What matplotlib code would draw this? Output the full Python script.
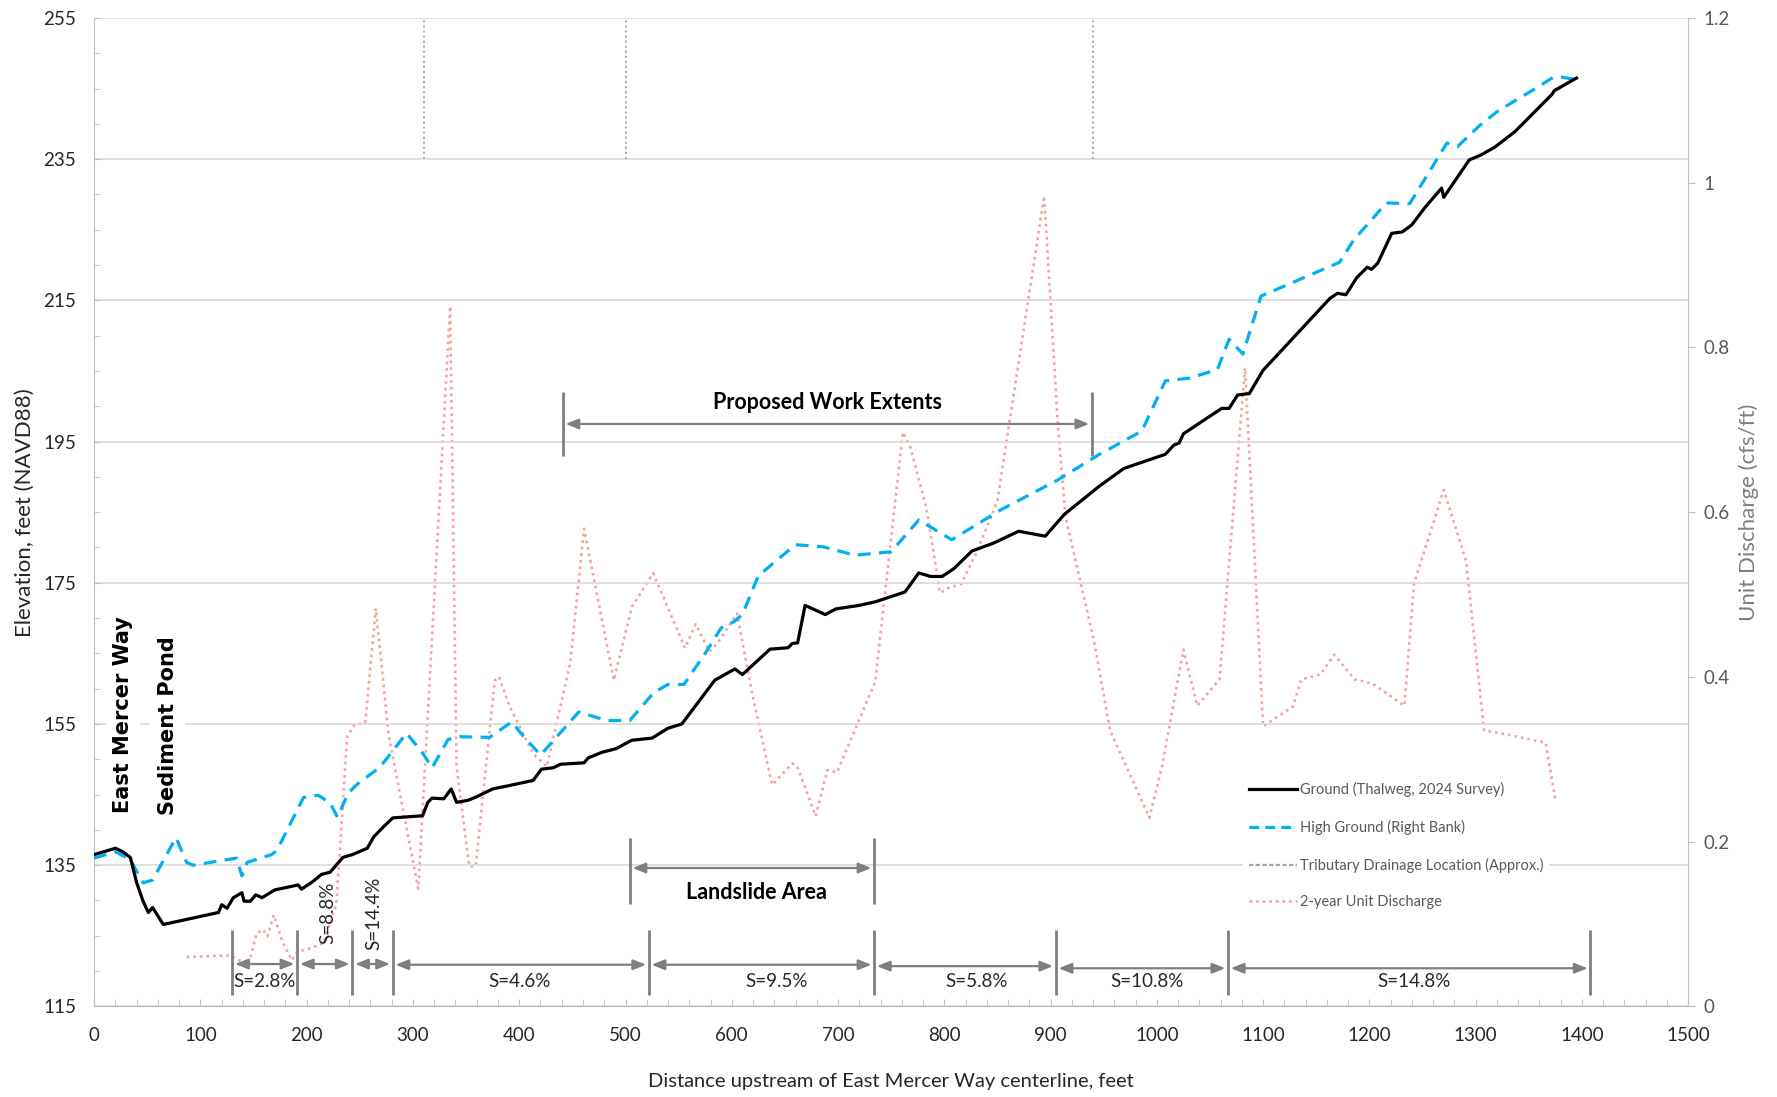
import matplotlib
matplotlib.use("Agg")
import matplotlib.pyplot as plt
from matplotlib.lines import Line2D
from matplotlib.ticker import MultipleLocator, FixedLocator

plt.rcParams['font.family'] = ['Lato', 'DejaVu Sans']

# ground profile (thalweg, 2024 survey)
x_ground = [0, 20, 27, 34, 40, 46, 51, 55, 65, 117, 120, 125, 131, 139, 141, 147, 152, 158,
            170, 192, 195, 205, 214, 222, 234, 243, 257, 263, 272, 281, 309, 314, 318, 329,
            336, 341, 352, 360, 375, 388, 413, 421, 432, 439, 461, 465, 478, 491, 506, 525,
            540, 553, 567, 584, 603, 610, 623, 636, 653, 657, 662, 669, 688, 698, 720, 735,
            763, 776, 787, 798, 809, 826, 846, 870, 895, 913, 946, 969, 1008, 1016, 1021,
            1025, 1061, 1068, 1076, 1087, 1100, 1163, 1170, 1178, 1188, 1198, 1202, 1208,
            1221, 1231, 1240, 1252, 1268, 1270, 1294, 1305, 1318, 1337, 1372, 1374, 1395]
elev_ground = [136.5, 137.4, 136.9, 136.1, 132.5, 129.9, 128.3, 129.0, 126.6, 128.3, 129.4,
               128.9, 130.4, 131.1, 129.9, 129.9, 130.8, 130.4, 131.5, 132.2, 131.6, 132.6,
               133.7, 134.0, 136.1, 136.5, 137.4, 139.0, 140.4, 141.7, 142.0, 143.9, 144.5,
               144.4, 145.8, 143.9, 144.2, 144.7, 145.8, 146.2, 147.0, 148.6, 148.8, 149.3,
               149.5, 150.2, 151.0, 151.5, 152.7, 153.0, 154.4, 155.0, 157.8, 161.2, 162.8,
               162.0, 163.8, 165.6, 165.8, 166.4, 166.5, 171.8, 170.5, 171.3, 171.8, 172.3,
               173.7, 176.4, 175.9, 175.9, 177.0, 179.5, 180.6, 182.3, 181.6, 184.7, 188.7,
               191.2, 193.2, 194.5, 194.8, 196.1, 199.7, 199.7, 201.6, 201.8, 205.1, 215.3,
               216.0, 215.8, 218.2, 219.7, 219.4, 220.3, 224.5, 224.7, 225.7, 228.1, 230.9,
               229.6, 234.9, 235.6, 236.7, 238.9, 244.2, 244.7, 246.5]

# high ground (right bank)
x_bank = [0, 20, 34, 46, 55, 77, 87, 93, 134, 139, 144, 167, 172, 197, 211, 222, 229, 239,
          247, 269, 294, 309, 318, 333, 344, 372, 393, 402, 420, 456, 482, 504, 527, 540,
          555, 575, 590, 602, 610, 625, 660, 686, 716, 750, 776, 807, 854, 906, 946, 986,
          1008, 1031, 1057, 1068, 1081, 1098, 1172, 1185, 1216, 1238, 1273, 1283, 1304,
          1320, 1335, 1354, 1373, 1382, 1393]
elev_bank = [136.0, 136.9, 135.8, 132.5, 132.9, 138.9, 135.4, 135.0, 136.0, 133.5, 135.4,
             136.5, 137.1, 144.6, 144.9, 143.8, 141.8, 145.2, 146.4, 148.9, 153.7, 150.9,
             148.8, 152.8, 153.2, 153.1, 155.3, 153.6, 150.6, 156.7, 155.5, 155.5, 159.5,
             160.6, 160.6, 165.0, 168.6, 169.5, 170.5, 176.0, 180.4, 180.1, 178.9, 179.4,
             183.9, 181.1, 185.4, 189.5, 193.2, 196.5, 203.6, 204.0, 205.2, 209.5, 207.4,
             215.6, 220.4, 223.5, 228.8, 228.7, 237.3, 236.8, 239.8, 241.7, 243.1, 244.8,
             246.6, 246.6, 246.3]

# 2-year unit discharge, cfs/ft
x_q = [87, 128, 134, 145, 153, 159, 163, 169, 177, 186, 191, 204, 216, 228, 238, 245, 255,
       265, 270, 277, 305, 335, 341, 353, 359, 377, 381, 391, 413, 426, 448, 461, 489, 506,
       526, 556, 566, 579, 586, 605, 619, 638, 657, 662, 679, 690, 699, 735, 761, 768, 783,
       796, 804, 816, 831, 850, 894, 907, 914, 941, 956, 993, 1005, 1025, 1038, 1059, 1083,
       1100, 1128, 1136, 1154, 1167, 1186, 1203, 1233, 1242, 1270, 1291, 1308, 1330, 1366,
       1375]
q = [0.060, 0.062, 0.058, 0.050, 0.089, 0.093, 0.085, 0.111, 0.079, 0.056, 0.066, 0.071,
     0.077, 0.125, 0.327, 0.342, 0.344, 0.483, 0.420, 0.330, 0.143, 0.850, 0.291, 0.170,
     0.170, 0.396, 0.400, 0.364, 0.307, 0.291, 0.417, 0.580, 0.396, 0.485, 0.526, 0.435,
     0.464, 0.431, 0.440, 0.477, 0.381, 0.269, 0.295, 0.290, 0.231, 0.287, 0.284, 0.394,
     0.697, 0.679, 0.606, 0.502, 0.508, 0.513, 0.553, 0.614, 0.984, 0.703, 0.595, 0.443,
     0.335, 0.229, 0.292, 0.433, 0.365, 0.397, 0.775, 0.340, 0.364, 0.397, 0.403, 0.427,
     0.397, 0.392, 0.365, 0.513, 0.627, 0.541, 0.335, 0.330, 0.320, 0.251]

# tributary drainage locations (approx.)
trib_x = [310, 500, 940]
trib_elev = [235, 255]

# slope segments
slope_breaks = [130, 191, 243, 281, 522, 734, 905, 1067, 1408]
slope_labels = ['S=2.8%', 'S=8.8%', 'S=14.4%', 'S=4.6%', 'S=9.5%', 'S=5.8%', 'S=10.8%', 'S=14.8%']

work_extents = [441, 939]
landslide = [504, 734]

x_ticks = list(range(0, 1501, 100))
elev_ticks = list(range(115, 256, 20))
q_ticks = [0, 0.2, 0.4, 0.6, 0.8, 1.0, 1.2]
q_tick_labels = ['0', '0.2', '0.4', '0.6', '0.8', '1', '1.2']

GREY = '#7F7F7F'
AXC = '#BFBFBF'

fig = plt.figure(figsize=(17.77, 10.97), dpi=100)
ax1 = fig.add_axes([0.053, 0.0826, 0.897, 0.901])
ax2 = ax1.twinx()
ax1.set_zorder(ax2.get_zorder() + 1)
ax1.patch.set_visible(False)

# discharge on secondary axis (drawn behind)
ax2.plot(x_q, q, color='#F4A3A3', lw=1.9, linestyle=(0, (1, 1.5)))
ax2.set_ylim(0, 1.2)
ax2.yaxis.set_major_locator(FixedLocator(q_ticks))
ax2.set_yticklabels(q_tick_labels)
ax2.tick_params(axis='y', direction='out', length=5, color=AXC, labelcolor='#595959',
                labelsize=13.5, pad=6)
for s in ['top', 'left', 'bottom']:
    ax2.spines[s].set_visible(False)
ax2.spines['right'].set_color(AXC)
ax2.set_ylabel('Unit Discharge (cfs/ft)', color='#7F7F7F', fontsize=16, labelpad=6)

ax1.plot(x_bank, elev_bank, color='#00B0F0', lw=2.3, linestyle=(0, (4, 2.6)), zorder=3)
ax1.plot(x_ground, elev_ground, color='black', lw=2.3, zorder=4)
for xt in trib_x:
    ax1.plot([xt, xt], trib_elev, color='#A6A6A6', lw=1.3, linestyle=(0, (1.2, 1.6)), zorder=2)

ax1.set_xlim(0, 1500)
ax1.set_ylim(115, 255)
ax1.set_xticks(x_ticks)
ax1.xaxis.set_minor_locator(MultipleLocator(20))
ax1.set_yticks(elev_ticks)
ax1.yaxis.set_minor_locator(MultipleLocator(5))
ax1.yaxis.grid(True, color='#D9D9D9', lw=1.2)
ax1.set_axisbelow(True)
ax1.tick_params(axis='x', which='both', direction='in', length=5, color=AXC,
                labelcolor='#262626', labelsize=13.5, pad=15)
ax1.tick_params(axis='y', which='both', direction='in', length=4, color=AXC,
                labelcolor='#262626', labelsize=13.5, pad=13)
ax1.spines['top'].set_visible(False)
ax1.spines['right'].set_visible(False)
ax1.spines['left'].set_color(AXC)
ax1.spines['bottom'].set_color(AXC)
ax1.set_xlabel('Distance upstream of East Mercer Way centerline, feet', fontsize=14.5,
               color='#262626', labelpad=21)
ax1.set_ylabel('Elevation, feet (NAVD88)', fontsize=16, color='#262626', labelpad=6)

# annotations
def dim_arrow(ax, x0, x1, y):
    ax.annotate('', xy=(x1, y), xytext=(x0, y),
                arrowprops=dict(arrowstyle='<|-|>,head_length=0.55,head_width=0.22',
                                color=GREY, lw=1.6, mutation_scale=14, shrinkA=2, shrinkB=2),
                zorder=5)

ax1.vlines(work_extents, 193.0, 202.0, color=GREY, lw=2, zorder=5)
dim_arrow(ax1, work_extents[0], work_extents[1], 197.5)
ax1.text(690, 200.6, 'Proposed Work Extents', ha='center', va='center', fontsize=15.5,
         fontweight='bold', color='black', zorder=6)

ax1.vlines(landslide, 129.5, 138.8, color=GREY, lw=2, zorder=5)
dim_arrow(ax1, landslide[0], landslide[1], 134.6)
ax1.text(623, 131.2, 'Landslide Area', ha='center', va='center', fontsize=15.5,
         fontweight='bold', color='black', zorder=6)

ax1.vlines(slope_breaks, 116.6, 125.8, color=GREY, lw=2, zorder=5)
arrow_y = [121.0, 121.0, 121.0, 120.9, 120.9, 120.7, 120.4, 120.4]
label_x = [160, 220, 263, 400, 642, 830, 991, 1242]
for i, lab in enumerate(slope_labels):
    dim_arrow(ax1, slope_breaks[i], slope_breaks[i + 1], arrow_y[i])
    if lab in ('S=8.8%', 'S=14.4%'):
        ax1.text(label_x[i], 128.2, lab, rotation=90, ha='center', va='center',
                 fontsize=13.5, color='#262626', zorder=6)
    else:
        ax1.text(label_x[i], 118.5, lab, ha='center', va='center', fontsize=13.5,
                 color='#262626', zorder=6)

box = dict(boxstyle='square,pad=0.35', fc='white', ec='none')
ax1.text(27, 156.4, 'East Mercer Way', rotation=90, ha='center', va='center',
         fontsize=15, fontweight='bold', family='DejaVu Sans', bbox=box, zorder=6)
ax1.text(69, 154.7, 'Sediment Pond', rotation=90, ha='center', va='center',
         fontsize=15, fontweight='bold', family='DejaVu Sans', bbox=box, zorder=6)

handles = [
    Line2D([], [], color='black', lw=2.3),
    Line2D([], [], color='#00B0F0', lw=2.3, linestyle=(0, (3, 2))),
    Line2D([], [], color='#A6A6A6', lw=1.6, linestyle=(0, (2, 1))),
    Line2D([], [], color='#F4A3A3', lw=1.9, linestyle=(0, (1, 1.5))),
]
labels = ['Ground (Thalweg, 2024 Survey)', 'High Ground (Right Bank)',
          'Tributary Drainage Location (Approx.)', '2-year Unit Discharge']
leg = ax1.legend(handles, labels, loc='upper left', bbox_to_anchor=(0.716, 0.24),
                 fontsize=10.5, labelcolor='#595959', frameon=True, facecolor='white',
                 edgecolor='none', framealpha=1, handlelength=3.3, handletextpad=0.2,
                 labelspacing=1.55, borderpad=0.4, fancybox=False)
leg.set_zorder(10)

fig.savefig('out.png', dpi=100)
